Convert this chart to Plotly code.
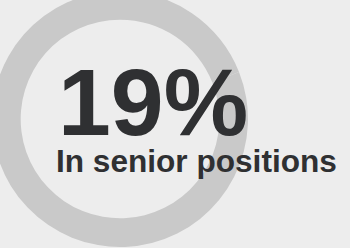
import plotly.graph_objects as go

labels = ["In senior positions", "Other"]
values = [19, 81]
big_label = "19%"
sub_label = "In senior positions"

OFF = 9  # the figure is shifted up/left by this many pixels so the ring can bleed off the edges
W, H = 350 + OFF, 248 + OFF

fig = go.Figure()
fig.add_trace(go.Pie(
    labels=labels, values=values, hole=0.776,
    marker=dict(colors=["#c9c9c9", "#c9c9c9"], line=dict(width=0)),
    textinfo="none", hoverinfo="label+percent", sort=False,
    domain=dict(x=[1 / W, 257 / W], y=[1 / H, 1.0]),
    showlegend=False,
))
fig.add_annotation(text=big_label, x=(56 + OFF) / W, y=1 - (101.5 + OFF) / H,
                   xref="paper", yref="paper", xanchor="left", yanchor="middle",
                   showarrow=False,
                   font=dict(family="Liberation Sans", size=95, color="#2f3032"))
fig.add_annotation(text=sub_label, x=(54 + OFF) / W, y=1 - (161 + OFF) / H,
                   xref="paper", yref="paper", xanchor="left", yanchor="middle",
                   showarrow=False,
                   font=dict(family="Liberation Sans", size=31.6, color="#2f3032"))
fig.update_annotations(font_weight="bold")
fig.update_layout(width=W, height=H, margin=dict(l=0, r=0, t=0, b=0),
                  paper_bgcolor="#ededed", plot_bgcolor="#ededed")
fig.write_html(
    "out.html",
    config={"displayModeBar": False},
    post_script=(
        "document.body.style.margin='0';"
        "document.body.style.overflow='hidden';"
        "document.body.style.background='#ededed';"
        "var d=document.getElementById('{plot_id}');"
        "d.style.marginLeft='-%dpx';d.style.marginTop='-%dpx';" % (OFF, OFF)
    ),
)
